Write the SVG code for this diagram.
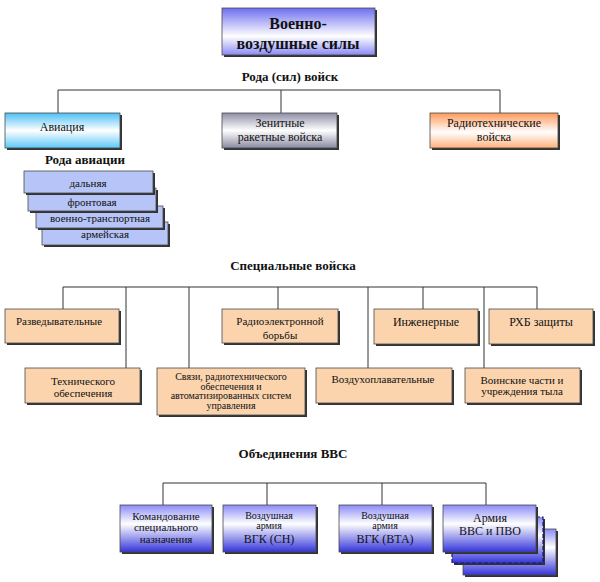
<svg xmlns="http://www.w3.org/2000/svg" width="600" height="582" viewBox="0 0 600 582" font-family="'Liberation Serif','DejaVu Serif','Times New Roman',serif">
<defs>
<linearGradient id="gTop" x1="0" y1="0" x2="0" y2="1">
<stop offset="0" stop-color="#6e6ef0"/><stop offset="0.6" stop-color="#ffffff"/><stop offset="1" stop-color="#8a8af5"/>
</linearGradient>
<linearGradient id="gCyan" x1="0" y1="0" x2="0" y2="1">
<stop offset="0" stop-color="#4cc0f5"/><stop offset="0.5" stop-color="#ffffff"/><stop offset="1" stop-color="#5cc8f8"/>
</linearGradient>
<linearGradient id="gGray" x1="0" y1="0" x2="0" y2="1">
<stop offset="0" stop-color="#8e8ea6"/><stop offset="0.5" stop-color="#ffffff"/><stop offset="1" stop-color="#8a8aa2"/>
</linearGradient>
<linearGradient id="gOrange" x1="0" y1="0" x2="0" y2="1">
<stop offset="0" stop-color="#ff9a5a"/><stop offset="0.55" stop-color="#ffffff"/><stop offset="1" stop-color="#ffb07a"/>
</linearGradient>
<linearGradient id="gBlue" x1="0" y1="0" x2="0" y2="1">
<stop offset="0" stop-color="#8a8af8"/><stop offset="0.4" stop-color="#ffffff"/><stop offset="1" stop-color="#3535dc"/>
</linearGradient>
<style>
.sh{fill:#333}
.bx{stroke:#4a4a4a;stroke-width:0.8}
.peach{fill:#fbd4ad}
.stk{fill:#b6c4f8}
.ln{stroke:#333;stroke-width:1;fill:none}
text{font-family:"Liberation Serif","DejaVu Serif","Times New Roman",serif;fill:#111;text-anchor:middle}
.h{font-weight:bold;font-size:13px}
.t{font-size:12px}
.s{font-size:11px}
.xs{font-size:10px}
</style>
</defs>

<g id="connectors">
<path class="ln" d="M58,113V90H500V113M281,90V113"/>
<path class="ln" d="M63,309V287H537V309M126,287V368M189,287V368M278,287V309M368,287V368M423,287V309M484,287V368"/>
<path class="ln" d="M163,505V483H486V505M267,483V505M382,483V505"/>
</g>

<g id="vvs">
<rect class="sh" x="224" y="10" width="153" height="47"/>
<rect class="bx" x="222" y="8" width="153" height="47" fill="url(#gTop)"/>
<text x="298" y="29" style="font-weight:bold;font-size:16px">Военно-</text>
<text x="298" y="49" style="font-weight:bold;font-size:16px">воздушные силы</text>
</g>

<text class="h" x="290" y="81">Рода (сил) войск</text>

<g id="aviacia">
<rect class="sh" x="7" y="115" width="115" height="35"/>
<rect class="bx" x="5" y="113" width="115" height="35" fill="url(#gCyan)"/>
<text class="t" x="62" y="131">Авиация</text>
</g>
<g id="zenit">
<rect class="sh" x="224" y="115" width="115" height="35"/>
<rect class="bx" x="222" y="113" width="115" height="35" fill="url(#gGray)"/>
<text class="t" x="280" y="127">Зенитные</text>
<text class="t" x="280" y="141">ракетные войска</text>
</g>
<g id="radiotech">
<rect class="sh" x="432" y="115" width="128" height="35"/>
<rect class="bx" x="430" y="113" width="128" height="35" fill="url(#gOrange)"/>
<text class="t" x="494" y="127">Радиотехнические</text>
<text class="t" x="494" y="141">войска</text>
</g>

<text class="h" x="85" y="164">Рода авиации</text>

<g id="armeyskaya">
<rect class="sh" x="44" y="224" width="126" height="23"/>
<rect class="bx stk" x="42" y="222" width="126" height="23"/>
<text class="s" x="105" y="238">армейская</text>
</g>
<g id="vta">
<rect class="sh" x="38" y="208" width="127" height="22"/>
<rect class="bx stk" x="36" y="206" width="127" height="22"/>
<text class="s" x="100" y="222">военно-транспортная</text>
</g>
<g id="frontovaya">
<rect class="sh" x="30" y="190" width="128" height="23"/>
<rect class="bx stk" x="28" y="188" width="128" height="23"/>
<text class="s" x="92" y="206">фронтовая</text>
</g>
<g id="dalnyaya">
<rect class="sh" x="26" y="173" width="129" height="22"/>
<rect class="bx stk" x="24" y="171" width="129" height="22"/>
<text class="s" x="88" y="187">дальняя</text>
</g>

<text class="h" x="293" y="270">Специальные войска</text>

<g id="razved">
<rect class="sh" x="7" y="311" width="114" height="34"/>
<rect class="bx peach" x="5" y="309" width="114" height="34"/>
<text class="s" x="59" y="325">Разведывательные</text>
</g>
<g id="reb">
<rect class="sh" x="224" y="311" width="116" height="34"/>
<rect class="bx peach" x="222" y="309" width="116" height="34"/>
<text class="s" x="280" y="325">Радиоэлектронной</text>
<text class="s" x="280" y="339">борьбы</text>
</g>
<g id="inzh">
<rect class="sh" x="376" y="311" width="104" height="35"/>
<rect class="bx peach" x="374" y="309" width="104" height="35"/>
<text class="t" x="426" y="326">Инженерные</text>
</g>
<g id="rhb">
<rect class="sh" x="491" y="311" width="104" height="35"/>
<rect class="bx peach" x="489" y="309" width="104" height="35"/>
<text class="t" x="541" y="326">РХБ защиты</text>
</g>
<g id="tech">
<rect class="sh" x="27" y="370" width="115" height="35"/>
<rect class="bx peach" x="25" y="368" width="115" height="35"/>
<text class="s" x="83" y="385">Технического</text>
<text class="s" x="83" y="397">обеспечения</text>
</g>
<g id="svyazi">
<rect class="sh" x="159" y="370" width="148" height="47"/>
<rect class="bx peach" x="157" y="368" width="148" height="47"/>
<text class="xs" x="231" y="380">Связи, радиотехнического</text>
<text class="xs" x="231" y="389.7">обеспечения и</text>
<text class="xs" x="231" y="399.4">автоматизированных систем</text>
<text class="xs" x="231" y="409.1">управления</text>
</g>
<g id="vozduh">
<rect class="sh" x="318" y="370" width="136" height="35"/>
<rect class="bx peach" x="316" y="368" width="136" height="35"/>
<text class="s" x="383" y="383">Воздухоплавательные</text>
</g>
<g id="tyl">
<rect class="sh" x="467" y="370" width="115" height="35"/>
<rect class="bx peach" x="465" y="368" width="115" height="35"/>
<text class="s" x="522" y="384">Воинские части и</text>
<text class="s" x="522" y="395">учреждения тыла</text>
</g>

<text class="h" x="293" y="458">Объединения ВВС</text>

<g id="kosn">
<rect class="sh" x="122" y="507" width="92" height="47"/>
<rect class="bx" x="120" y="505" width="92" height="47" fill="url(#gBlue)"/>
<text class="s" x="166" y="520">Командование</text>
<text class="s" x="166" y="531">специального</text>
<text class="s" x="166" y="543">назначения</text>
</g>
<g id="vgk-sn">
<rect class="sh" x="225" y="507" width="93" height="47"/>
<rect class="bx" x="223" y="505" width="93" height="47" fill="url(#gBlue)"/>
<text class="xs" x="269" y="518.5">Воздушная</text>
<text class="xs" x="269" y="529">армия</text>
<text class="t" x="269" y="543">ВГК (СН)</text>
</g>
<g id="vgk-vta">
<rect class="sh" x="341" y="507" width="93" height="47"/>
<rect class="bx" x="339" y="505" width="93" height="47" fill="url(#gBlue)"/>
<text class="xs" x="385" y="518.5">Воздушная</text>
<text class="xs" x="385" y="529">армия</text>
<text class="t" x="385" y="543">ВГК (ВТА)</text>
</g>
<g id="armiya">
<rect class="sh" x="465" y="531" width="93" height="46"/>
<rect class="bx" x="463" y="529" width="93" height="46" fill="url(#gBlue)"/>
<rect class="sh" x="454" y="519" width="91" height="46"/>
<rect x="452" y="517" width="91" height="46" fill="url(#gBlue)" stroke="#1a1a6a" stroke-width="1.2" stroke-dasharray="4,2"/>
<rect class="sh" x="445" y="507" width="93" height="47"/>
<rect class="bx" x="443" y="505" width="93" height="47" fill="url(#gBlue)"/>
<text class="t" x="490" y="522">Армия</text>
<text class="t" x="490" y="535">ВВС и ПВО</text>
</g>
</svg>
